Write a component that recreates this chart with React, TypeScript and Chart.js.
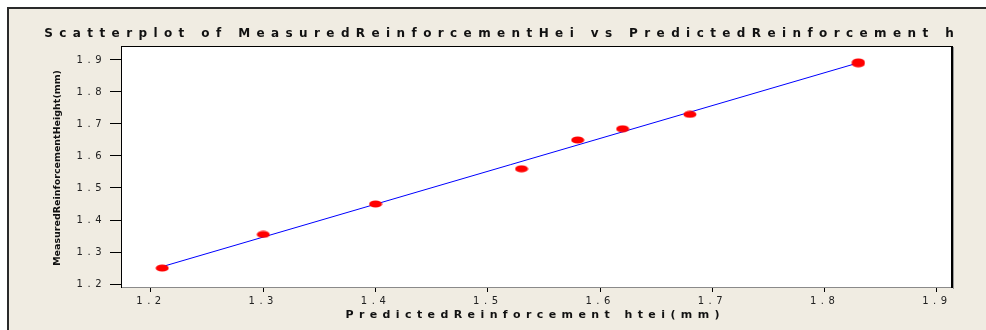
import React, { useEffect, useRef } from "react";
import { Chart, registerables } from "chart.js";

Chart.register(...registerables);

// ---- data ----
const predicted = [1.21, 1.3, 1.4, 1.53, 1.58, 1.62, 1.68, 1.83, 1.83];
const measured = [1.25, 1.355, 1.45, 1.56, 1.65, 1.685, 1.73, 1.888, 1.894];
const xTickValues = [1.2, 1.3, 1.4, 1.5, 1.6, 1.7, 1.8, 1.9];
const yTickValues = [1.2, 1.3, 1.4, 1.5, 1.6, 1.7, 1.8, 1.9];
const xRange = [1.1733, 1.9134];
const yRange = [1.1907, 1.9436];
const titleText = "Scatterplot of MeasuredReinforcementHei vs PredictedReinforcement h";
const xTitleText = "PredictedReinforcement htei(mm)";
const yTitleText = "MeasuredReinforcementHeight(mm)";

// least-squares fit line from the data
function fitLine(xs: number[], ys: number[]) {
  const n = xs.length;
  const mx = xs.reduce((a, b) => a + b, 0) / n;
  const my = ys.reduce((a, b) => a + b, 0) / n;
  let sxy = 0;
  let sxx = 0;
  for (let i = 0; i < n; i++) {
    sxy += (xs[i] - mx) * (ys[i] - my);
    sxx += (xs[i] - mx) * (xs[i] - mx);
  }
  const slope = sxy / sxx;
  const intercept = my - slope * mx;
  const x0 = Math.min(...xs);
  const x1 = Math.max(...xs);
  return [
    { x: x0, y: intercept + slope * x0 },
    { x: x1, y: intercept + slope * x1 },
  ];
}

function makeDot() {
  const c = document.createElement("canvas");
  c.width = 14;
  c.height = 8;
  const g = c.getContext("2d")!;
  g.fillStyle = "#ff0000";
  g.beginPath();
  g.ellipse(7, 4, 6.5, 3.6, 0, 0, Math.PI * 2);
  g.fill();
  return c;
}

const BEIGE = "#f0ece2";

const framePlugin = {
  id: "framePlugin",
  beforeDraw(chart: any) {
    const { ctx, width, height, chartArea } = chart;
    ctx.save();
    ctx.fillStyle = "#ffffff";
    ctx.fillRect(0, 0, width, height);
    ctx.fillStyle = BEIGE;
    ctx.fillRect(9, 9, width - 9, height - 9);
    ctx.fillStyle = "#2a2a2a";
    ctx.fillRect(7, 7, width - 7, 2);
    ctx.fillRect(7, 7, 2, height - 7);
    ctx.fillStyle = "#ffffff";
    ctx.fillRect(chartArea.left, chartArea.top, chartArea.right - chartArea.left, chartArea.bottom - chartArea.top);
    ctx.restore();
    ctx.letterSpacing = "4.5px";
  },
  afterDraw(chart: any) {
    const { ctx, chartArea } = chart;
    ctx.letterSpacing = "0px";
    ctx.save();
    // top & right borders of plot
    ctx.fillStyle = "#000000";
    ctx.fillRect(chartArea.left, chartArea.top, chartArea.right - chartArea.left + 1, 1);
    ctx.fillRect(chartArea.right - 1, chartArea.top, 2, chartArea.bottom - chartArea.top + 1);
    ctx.fillStyle = "#9a9a9a";
    ctx.fillRect(chartArea.right + 1, chartArea.top + 1, 1, chartArea.bottom - chartArea.top + 1);

    ctx.fillStyle = "#111111";
    ctx.textBaseline = "alphabetic";
    ctx.textAlign = "center";
    // main title
    ctx.font = 'bold 12px "DejaVu Sans"';
    (ctx as any).letterSpacing = "6.4px";
    ctx.fillText(titleText, 499 + 3.2, 37);
    // x title
    ctx.font = 'bold 11px "DejaVu Sans"';
    (ctx as any).letterSpacing = "5.4px";
    ctx.fillText(xTitleText, (chartArea.left + chartArea.right) / 2 - 4 + 2.7, 318);
    // y title
    (ctx as any).letterSpacing = "0px";
    ctx.translate(60, 168);
    ctx.rotate(-Math.PI / 2);
    ctx.font = 'bold 9.5px "DejaVu Sans"';
    ctx.fillText(yTitleText, 0, 0);
    ctx.restore();
  },
};

export default function App() {
  const ref = useRef<HTMLCanvasElement>(null);

  useEffect(() => {
    document.body.style.margin = "0";
    const dot = makeDot();
    const points = predicted.map((x, i) => ({ x, y: measured[i] }));
    const chart = new Chart(ref.current!, {
      type: "scatter",
      data: {
        datasets: [
          {
            label: "Measured",
            data: points,
            pointStyle: dot as any,
            pointRadius: 6,
            order: 0,
          },
          {
            label: "Fit",
            type: "line" as any,
            data: fitLine(predicted, measured),
            borderColor: "#0000ff",
            borderWidth: 1,
            pointRadius: 0,
            showLine: true,
            fill: false,
            order: 1,
          } as any,
        ],
      },
      options: {
        animation: false,
        responsive: false,
        events: [],
        layout: { padding: { left: 0, top: 46, right: 34, bottom: 0 } },
        plugins: {
          legend: { display: false },
          title: { display: false },
          tooltip: { enabled: false },
        },
        scales: {
          x: {
            type: "linear",
            min: xRange[0],
            max: xRange[1],
            afterBuildTicks: (s: any) => {
              s.ticks = xTickValues.map((v) => ({ value: v }));
            },
            afterFit: (s: any) => {
              s.height = 43;
            },
            ticks: {
              callback: (v: any) => Number(v).toFixed(1),
              font: { family: '"DejaVu Sans"', size: 10 },
              color: "#222222",
              padding: 3,
              maxRotation: 0,
              autoSkip: false,
            },
            grid: { drawOnChartArea: false, drawTicks: true, tickLength: 5, color: "#000000" },
            border: { color: "#8a8a8a", width: 1 },
          },
          y: {
            type: "linear",
            min: yRange[0],
            max: yRange[1],
            afterBuildTicks: (s: any) => {
              s.ticks = yTickValues.map((v) => ({ value: v }));
            },
            afterFit: (s: any) => {
              s.width = 121;
            },
            ticks: {
              callback: (v: any) => Number(v).toFixed(1),
              font: { family: '"DejaVu Sans"', size: 10 },
              color: "#222222",
              padding: 4,
              autoSkip: false,
            },
            grid: { drawOnChartArea: false, drawTicks: true, tickLength: 11, color: "#000000" },
            border: { color: "#000000", width: 1 },
          },
        },
      },
      plugins: [framePlugin],
    });
    return () => chart.destroy();
  }, []);

  return (
    <div style={{ width: 986, height: 330 }}>
      <canvas ref={ref} width={986} height={330} style={{ display: "block" }} />
    </div>
  );
}
